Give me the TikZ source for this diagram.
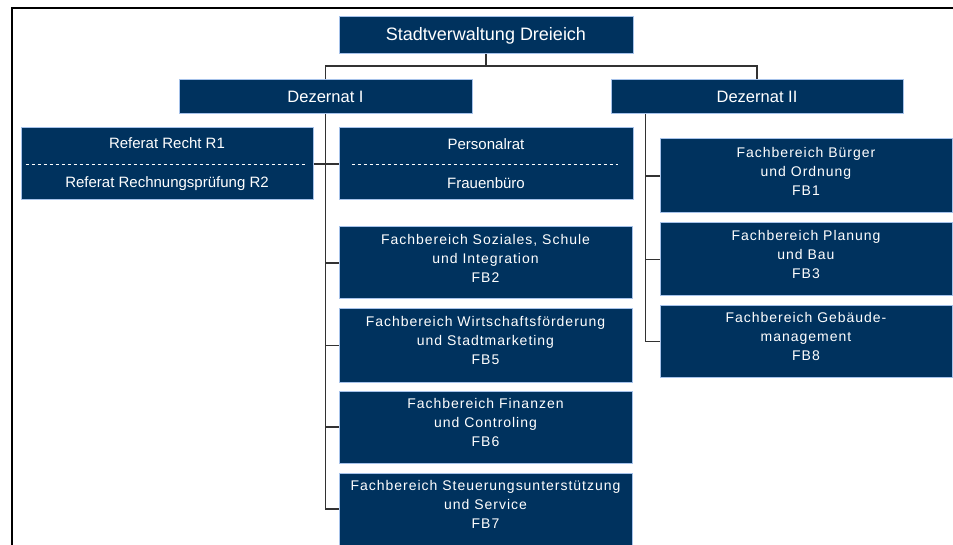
\documentclass[tikz,border=0pt]{standalone}
\usepackage{fontspec}
\setmainfont{Liberation Sans}
\newfontfamily\fbfont[LetterSpace=7]{Liberation Sans}
\definecolor{navy}{RGB}{0,50,94}
\definecolor{rim}{RGB}{166,194,234}
\definecolor{wirecol}{RGB}{50,50,50}

\begin{document}
\begin{tikzpicture}[x=1pt, y=-1pt,
  unit/.style={draw=rim, fill=navy, line width=1pt, text=white, align=center, inner sep=0pt},
  fb/.style={unit, minimum width=293pt, font=\fbfont\fontsize{14}{19}\selectfont},
  wire/.style={draw=wirecol, line width=1.3pt},
  divider/.style={white, dashed, line width=.8pt}]
  \useasboundingbox (0,0) rectangle (953,545);
  \draw[line width=1.5pt] (953,8) -- (12,8) -- (12,545);

  % top levels
  \node[unit, minimum width=294pt, minimum height=37pt, font=\fontsize{18}{22}\selectfont] (root) at (486,35.5) {Stadtverwaltung Dreieich};
  \node[unit, minimum width=293pt, minimum height=34pt, font=\fontsize{16.5}{20}\selectfont] (dezI) at (325.5,97) {Dezernat I};
  \node[unit, minimum width=292pt, minimum height=34pt, font=\fontsize{16.5}{20}\selectfont] (dezII) at (757,97) {Dezernat II};

  % staff units
  \node[unit, minimum width=292pt, minimum height=72pt, font=\fontsize{15}{18}\selectfont] (ref) at (167,164) {Referat Recht R1\\[21pt]Referat Rechnungsprüfung R2};
  \node[unit, minimum width=294pt, minimum height=72pt, font=\fontsize{15}{18}\selectfont] (pers) at (486,164) {Personalrat\\[21pt]Frauenbüro};
  \draw[divider] ([xshift=5pt]ref.west) -- ([xshift=-8pt]ref.east);
  \draw[divider] ([xshift=13pt]pers.west) -- ([xshift=-16pt]pers.east);

  % Fachbereiche (text sits a little above the middle)
  \foreach \n/\y/\h/\t in {fb2/263/72/Fachbereich Soziales{,} Schule\\und Integration\\FB2,
      fb5/345.5/73/Fachbereich Wirtschaftsförderung\\und Stadtmarketing\\FB5,
      fb6/427/72/Fachbereich Finanzen\\und Controling\\FB6,
      fb7/509/72/Fachbereich Steuerungsunterstützung\\und Service\\FB7}
    \node[fb, minimum height=\h pt] (\n) at (485.5,\y) {\t\\[-9pt]\mbox{}};
  \foreach \n/\y/\h/\t in {fb1/176/74/Fachbereich Bürger\\und Ordnung\\FB1,
      fb3/259.5/73/Fachbereich Planung\\und Bau\\FB3,
      fb8/341.5/71/Fachbereich Gebäude-\\management\\FB8}
    \node[fb, minimum width=292pt, minimum height=\h pt] (\n) at (806,\y) {\t\\[-9pt]\mbox{}};

  % connectors
  \coordinate (bus) at (486,66);
  \draw[wire] (root.south) -- (bus);
  \draw[wire] (dezI.north) |- (bus) -| (dezII.north);
  \draw[wire] (dezI.south) |- (fb7.west);
  \foreach \n in {fb2,fb5,fb6} \draw[wire] (dezI.south |- \n.west) -- (\n.west);
  \draw[wire] (ref.east) -- (pers.west);
  \coordinate (spR) at ([xshift=35pt]dezII.south west);
  \draw[wire] (spR) |- (fb8.west);
  \foreach \n in {fb1,fb3} \draw[wire] (spR |- \n.west) -- (\n.west);
\end{tikzpicture}
\end{document}
